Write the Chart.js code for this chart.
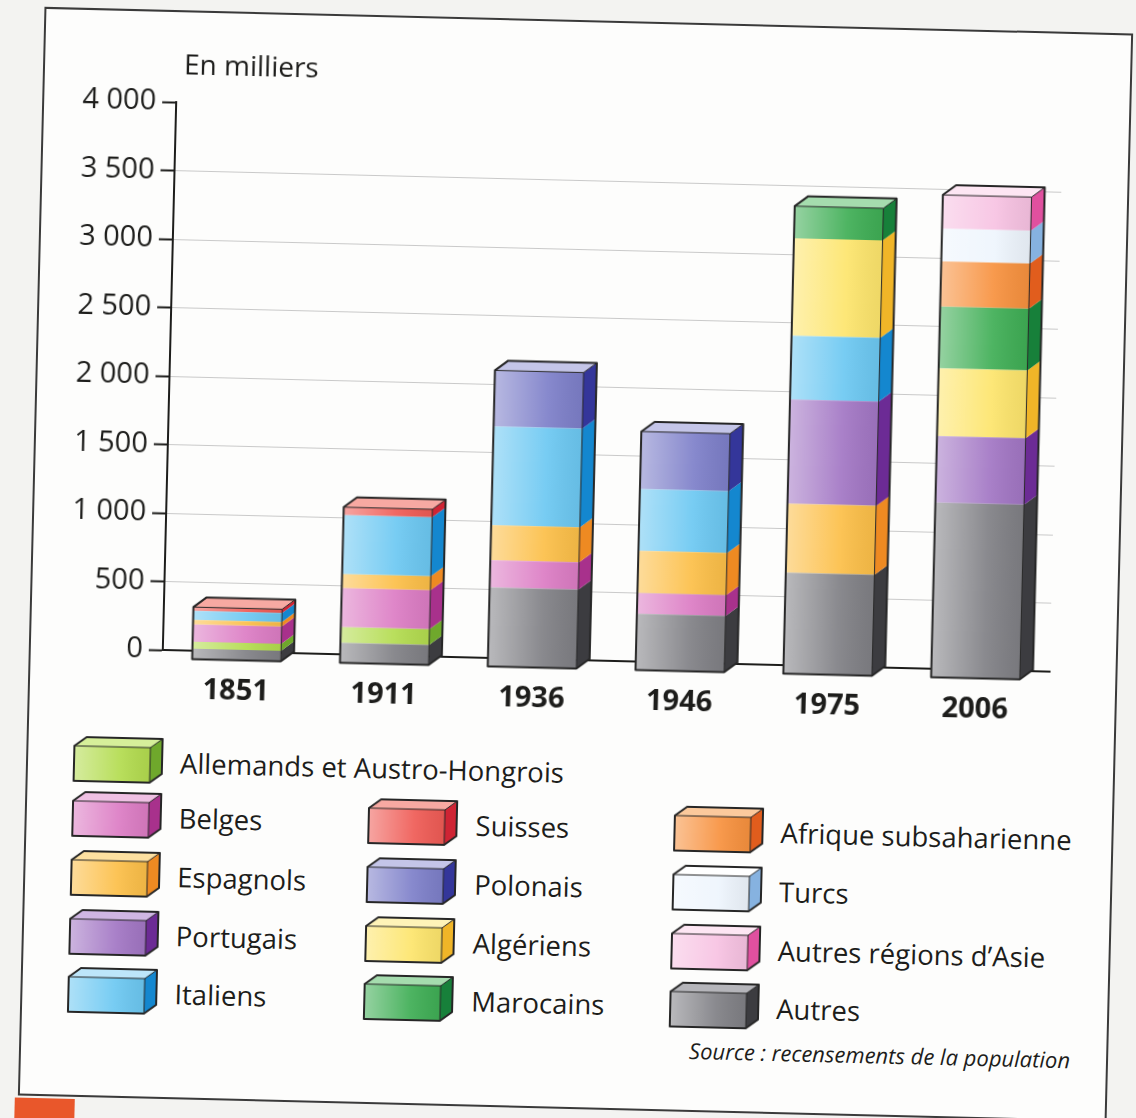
<!DOCTYPE html>
<html lang="fr">
<head>
<meta charset="utf-8">
<script src="https://cdn.jsdelivr.net/npm/chart.js@4.4.1/dist/chart.umd.min.js"></script>
<style>
    html, body { margin: 0; padding: 0; width: 1136px; height: 1118px; overflow: hidden; background: #f3f3f1; font-family: "Open Sans", sans-serif; color: #1d1d1b; }
    #page { position: absolute; left: 0; top: 0; width: 1136px; height: 1118px; transform-origin: 575px 565px; transform: rotate(1.4deg); }
    #panel { position: absolute; left: 31px; top: 20px; width: 1089px; height: 1089px; box-sizing: border-box; border: 2px solid #3a3a3a; background: #fdfdfc; }
    #chartBox { position: absolute; left: 0; top: 0; width: 1085px; height: 700px; }
    #unit { position: absolute; left: 139px; top: 32px; font-size: 28px; line-height: 38px; }
    .legIcon { position: absolute; }
    .legText { position: absolute; font-size: 27.5px; line-height: 38px; white-space: nowrap; }
    #source { position: absolute; right: 36px; top: 1010px; font-size: 22px; font-style: italic; line-height: 30px; }
    #mark { position: absolute; left: 28px; top: 1111px; width: 60px; height: 40px; background: #e9572b; }
</style>
</head>
<body>
<div id="page">
    <div id="panel">
        <div id="chartBox"><canvas id="immigChart" width="1085" height="700"></canvas></div>
        <div id="unit">En milliers</div>
        <div id="legend"></div>
        <div id="source">Source : recensements de la population</div>
    </div>
    <div id="mark"></div>
</div>
<script>
// Données (en milliers)
var years = ['1851', '1911', '1936', '1946', '1975', '2006'];
var autres = [80, 150, 580, 415, 740, 1280];
var allemands = [52, 115, 0, 0, 0, 0];
var belges = [125, 285, 200, 150, 0, 0];
var espagnols = [33, 102, 255, 310, 505, 0];
var portugais = [0, 0, 0, 0, 760, 485];
var italiens = [66, 430, 720, 450, 465, 0];
var suisses = [28, 58, 0, 0, 0, 0];
var polonais = [0, 0, 410, 420, 0, 0];
var algeriens = [0, 0, 0, 0, 712, 495];
var marocains = [0, 0, 0, 0, 235, 450];
var afrique = [0, 0, 0, 0, 0, 330];
var turcs = [0, 0, 0, 0, 0, 240];
var asie = [0, 0, 0, 0, 0, 245];
var yMax = 4000;
var yStep = 500;

// ordre d'empilement, du bas vers le haut
var series = [
    { label: 'Autres', data: autres, front: '#808085', side: '#3c3c40', lid: '#b5b5ba' },
    { label: 'Allemands et Austro-Hongrois', data: allemands, front: '#b3dc4f', side: '#6fa82c', lid: '#d6ef9a' },
    { label: 'Belges', data: belges, front: '#dc7cc4', side: '#a8318c', lid: '#efc0e3' },
    { label: 'Espagnols', data: espagnols, front: '#fcbf48', side: '#ee8a22', lid: '#fde0a0' },
    { label: 'Portugais', data: portugais, front: '#a276c4', side: '#6c2b95', lid: '#cfb6e3' },
    { label: 'Italiens', data: italiens, front: '#6cc8f2', side: '#1487cf', lid: '#bde6fa' },
    { label: 'Suisses', data: suisses, front: '#ef5b55', side: '#cf2434', lid: '#f7a9a2' },
    { label: 'Polonais', data: polonais, front: '#7d7fc9', side: '#34369a', lid: '#c4c5e8' },
    { label: 'Algériens', data: algeriens, front: '#fde56c', side: '#f0b528', lid: '#fef3b8' },
    { label: 'Marocains', data: marocains, front: '#3fae55', side: '#17803a', lid: '#a5dcae' },
    { label: 'Afrique subsaharienne', data: afrique, front: '#f7913e', side: '#e15d1d', lid: '#fbc99c' },
    { label: 'Turcs', data: turcs, front: '#eef5fd', side: '#86b2e0', lid: '#ffffff' },
    { label: 'Autres régions d\u2019Asie', data: asie, front: '#f7c2e2', side: '#e0509f', lid: '#fde6f3' }
];

// disposition de la légende : colonnes x lignes
var legendCols = [
    ['Allemands et Austro-Hongrois', 'Belges', 'Espagnols', 'Portugais', 'Italiens'],
    [null, 'Suisses', 'Polonais', 'Algériens', 'Marocains'],
    [null, 'Afrique subsaharienne', 'Turcs', 'Autres régions d\u2019Asie', 'Autres']
];

// profondeur de l'effet 3D ; les faces avant sont projetées un peu sous le plan des graduations
var DX = 13, DY = 10, FLOOR = 9;

function frontSheen(ctx, left, top, w, h) {
    var g = ctx.createLinearGradient(left, 0, left + w, 0);
    g.addColorStop(0, 'rgba(255,255,255,0.45)');
    g.addColorStop(0.6, 'rgba(255,255,255,0.08)');
    g.addColorStop(1, 'rgba(0,0,0,0.06)');
    ctx.fillStyle = g;
    ctx.fillRect(left, top, w, h);
}

var bar3d = {
    id: 'bar3d',
    beforeDatasetsDraw: function (chart) {
        chart.ctx.save();
        chart.ctx.translate(0, FLOOR);
    },
    afterDatasetsDraw: function (chart) {
        var ctx = chart.ctx;
        var stacks = [];
        chart.data.datasets.forEach(function (ds, di) {
            var s = series[di];
            chart.getDatasetMeta(di).data.forEach(function (el, i) {
                if (!ds.data[i]) return;
                var p = el.getProps(['x', 'y', 'base', 'width'], true);
                var left = p.x - p.width / 2, right = p.x + p.width / 2;
                frontSheen(ctx, left, p.y, p.width, p.base - p.y);
                ctx.fillStyle = s.side;
                ctx.beginPath();
                ctx.moveTo(right, p.y);
                ctx.lineTo(right + DX, p.y - DY);
                ctx.lineTo(right + DX, p.base - DY);
                ctx.lineTo(right, p.base);
                ctx.closePath();
                ctx.fill();
                var st = stacks[i];
                if (!st) {
                    stacks[i] = { left: left, right: right, top: p.y, base: p.base, lid: s.lid };
                } else {
                    if (p.y < st.top) { st.top = p.y; st.lid = s.lid; }
                    st.base = Math.max(st.base, p.base);
                }
            });
        });
        stacks.forEach(function (st) {
            if (!st) return;
            ctx.fillStyle = st.lid;
            ctx.beginPath();
            ctx.moveTo(st.left, st.top);
            ctx.lineTo(st.left + DX, st.top - DY);
            ctx.lineTo(st.right + DX, st.top - DY);
            ctx.lineTo(st.right, st.top);
            ctx.closePath();
            ctx.fill();
            ctx.strokeStyle = '#262626';
            ctx.lineWidth = 2;
            ctx.lineJoin = 'round';
            ctx.beginPath();
            ctx.moveTo(st.left, st.base);
            ctx.lineTo(st.left, st.top);
            ctx.lineTo(st.left + DX, st.top - DY);
            ctx.lineTo(st.right + DX, st.top - DY);
            ctx.lineTo(st.right + DX, st.base - DY);
            ctx.lineTo(st.right, st.base);
            ctx.closePath();
            ctx.stroke();
            ctx.lineWidth = 1;
            ctx.beginPath();
            ctx.moveTo(st.left, st.top);
            ctx.lineTo(st.right, st.top);
            ctx.lineTo(st.right + DX, st.top - DY);
            ctx.moveTo(st.right, st.top);
            ctx.lineTo(st.right, st.base);
            ctx.stroke();
        });
        ctx.restore();
    }
};

function fmt(v) {
    return String(v).replace(/\B(?=(\d{3})+(?!\d))/g, ' ');
}

new Chart(document.getElementById('immigChart').getContext('2d'), {
    type: 'bar',
    data: {
        labels: years,
        datasets: series.map(function (s) {
            return {
                label: s.label,
                data: s.data,
                backgroundColor: s.front,
                borderWidth: 0,
                barPercentage: 0.6,
                categoryPercentage: 1.0,
                clip: false
            };
        })
    },
    options: {
        responsive: false,
        animation: false,
        devicePixelRatio: 1,
        layout: { padding: { top: 90, right: 66, left: 0, bottom: 0 } },
        plugins: {
            legend: { display: false },
            title: { display: false },
            tooltip: { enabled: false }
        },
        scales: {
            x: {
                stacked: true,
                grid: { drawOnChartArea: false, drawTicks: false },
                border: { color: '#1d1d1b', width: 2 },
                ticks: {
                    color: '#1d1d1b',
                    padding: 22,
                    font: { family: 'Open Sans', size: 29, weight: 'bold' }
                },
                afterFit: function (scale) { scale.height = 62; }
            },
            y: {
                stacked: true,
                min: 0,
                max: yMax,
                ticks: {
                    stepSize: yStep,
                    color: '#1d1d1b',
                    padding: 6,
                    font: { family: 'Open Sans', size: 29 },
                    callback: function (v) { return fmt(v); }
                },
                grid: {
                    color: function (c) {
                        return (c.tick && c.tick.value > 0 && c.tick.value < yMax) ? '#c9c9c9' : 'rgba(0,0,0,0)';
                    },
                    lineWidth: 1,
                    tickColor: '#1d1d1b',
                    tickLength: 14,
                    tickWidth: 2
                },
                border: { color: '#1d1d1b', width: 2 },
                afterFit: function (scale) { scale.width = 132; }
            }
        }
    },
    plugins: [bar3d]
});

// Légende
function drawIcon(cv, s) {
    var ctx = cv.getContext('2d');
    var left = 2, top = 11, w = 76, h = 35;
    ctx.fillStyle = s.front;
    ctx.fillRect(left, top, w, h);
    frontSheen(ctx, left, top, w, h);
    ctx.fillStyle = s.lid;
    ctx.beginPath();
    ctx.moveTo(left, top); ctx.lineTo(left + 12, top - 9); ctx.lineTo(left + w + 12, top - 9); ctx.lineTo(left + w, top);
    ctx.closePath(); ctx.fill();
    ctx.fillStyle = s.side;
    ctx.beginPath();
    ctx.moveTo(left + w, top); ctx.lineTo(left + w + 12, top - 9); ctx.lineTo(left + w + 12, top + h - 9); ctx.lineTo(left + w, top + h);
    ctx.closePath(); ctx.fill();
    ctx.strokeStyle = '#262626';
    ctx.lineWidth = 2;
    ctx.lineJoin = 'round';
    ctx.beginPath();
    ctx.moveTo(left, top + h); ctx.lineTo(left, top); ctx.lineTo(left + 12, top - 9); ctx.lineTo(left + w + 12, top - 9);
    ctx.lineTo(left + w + 12, top + h - 9); ctx.lineTo(left + w, top + h); ctx.closePath();
    ctx.stroke();
    ctx.lineWidth = 1;
    ctx.beginPath();
    ctx.moveTo(left, top); ctx.lineTo(left + w, top); ctx.lineTo(left + w + 12, top - 9);
    ctx.moveTo(left + w, top); ctx.lineTo(left + w, top + h);
    ctx.stroke();
}

var legend = document.getElementById('legend');
var rowY = [751, 806, 865, 924, 982];
var iconX = [44, 340, 646];
var textX = [152, 449, 754];
legendCols.forEach(function (col, ci) {
    col.forEach(function (name, ri) {
        if (!name) return;
        var s = series.find(function (x) { return x.label === name; });
        var cv = document.createElement('canvas');
        cv.width = 92; cv.height = 48;
        cv.className = 'legIcon';
        cv.style.left = iconX[ci] + 'px';
        cv.style.top = (rowY[ri] - 26) + 'px';
        drawIcon(cv, s);
        legend.appendChild(cv);
        var t = document.createElement('div');
        t.className = 'legText';
        t.textContent = name;
        t.style.left = textX[ci] + 'px';
        t.style.top = (rowY[ri] - 19) + 'px';
        legend.appendChild(t);
    });
});
</script>
</body>
</html>
